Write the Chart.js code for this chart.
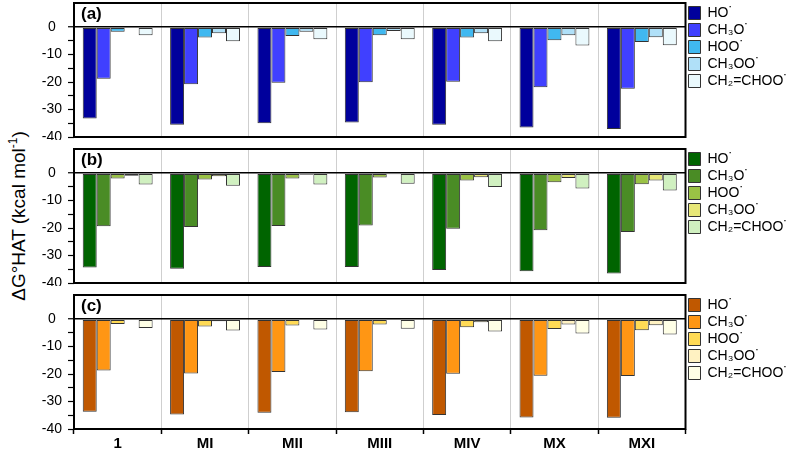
<!DOCTYPE html>
<html>
<head>
<meta charset="utf-8">
<script src="https://cdn.jsdelivr.net/npm/chart.js@4"></script>
<style>
  html, body { margin: 0; padding: 0; background: #fff; overflow: hidden; }
  body { width: 790px; height: 451px; position: relative; font-family: 'Liberation Sans', Arial, sans-serif; }
  canvas { position: absolute; left: 0; }
  #ytitle {
    position: absolute; left: 18px; top: 216px;
    transform: translate(-50%, -50%) rotate(-90deg);
    white-space: nowrap; font-size: 19px; color: #000;
  }
  #ytitle sup { font-size: 12px; }
</style>
</head>
<body>
<div id="ytitle">ΔG°HAT (kcal mol<sup>-1</sup>)</div>
<canvas id="panelA" width="790" height="140" style="top:0px"></canvas>
<canvas id="panelB" width="790" height="140" style="top:146px"></canvas>
<canvas id="panelC" width="790" height="162" style="top:292px"></canvas>
<script>
'use strict';

const categories = ['1', 'MI', 'MII', 'MIII', 'MIV', 'MX', 'MXI'];
const radicals = ['HO˙', 'CH₃O˙', 'HOO˙', 'CH₃OO˙', 'CH₂=CHOO˙'];

// panel (a)
const hoA      = [-33.3, -35.5, -35.0, -34.7, -35.5, -36.5, -37.1];
const ch3oA    = [-18.8, -20.8, -20.2, -20.1, -19.9, -21.9, -22.4];
const hooA     = [-1.7, -3.8, -3.2, -2.9, -3.8, -4.8, -5.4];
const ch3ooA   = [-0.2, -2.2, -1.7, -1.4, -2.2, -2.9, -3.7];
const ch2chooA = [-2.9, -5.1, -4.4, -4.4, -5.1, -6.7, -6.6];

// panel (b)
const hoB      = [-34.4, -34.8, -34.2, -34.2, -35.3, -35.7, -36.5];
const ch3oB    = [-19.3, -19.6, -19.2, -19.1, -20.2, -20.8, -21.4];
const hooB     = [-1.9, -2.3, -1.9, -1.6, -2.7, -3.3, -4.0];
const ch3ooB   = [-0.9, -1.1, -0.6, -0.4, -1.5, -1.8, -2.7];
const ch2chooB = [-4.1, -4.6, -4.1, -3.9, -5.0, -5.6, -6.3];

// panel (c)
const hoC      = [-33.7, -34.7, -34.1, -33.9, -34.9, -35.8, -35.9];
const ch3oC    = [-18.7, -19.8, -19.2, -19.0, -19.9, -20.6, -20.7];
const hooC     = [-1.8, -2.7, -2.3, -1.9, -2.9, -3.6, -4.0];
const ch3ooC   = [-0.3, -0.8, -0.3, -0.2, -1.1, -1.9, -2.2];
const ch2chooC = [-3.2, -4.1, -3.8, -3.5, -4.5, -5.2, -5.6];

const yTicks = [-40, -30, -20, -10, 0];

const blues   = ['#00009c', '#4040ff', '#40b8f0', '#b0e0f8', '#eaf9fd'];
const greens  = ['#006400', '#4a8c25', '#9ac245', '#e8e878', '#d0f0c0'];
const oranges = ['#c05800', '#ff9614', '#ffda55', '#fff2c2', '#ffffe6'];

Chart.defaults.font.family = "'Liberation Sans', Arial, sans-serif";
Chart.defaults.color = '#000';

const framePlugin = {
  id: 'frame',
  afterDraw(chart, args, opts) {
    const { ctx, chartArea: a } = chart;
    ctx.save();
    ctx.lineWidth = 2;
    ctx.strokeStyle = '#000';
    ctx.strokeRect(a.left, a.top, a.right - a.left, a.bottom - a.top);
    ctx.fillStyle = '#000';
    ctx.font = "bold 17px 'Liberation Sans', Arial, sans-serif";
    ctx.textBaseline = 'alphabetic';
    ctx.fillText(opts.text, a.left + 7, a.top + 16);
    ctx.restore();
  }
};

function makePanel(id, letter, colors, series, showX) {
  new Chart(id, {
    type: 'bar',
    data: {
      labels: categories,
      datasets: series.map((d, i) => ({
        label: radicals[i],
        data: d,
        backgroundColor: colors[i],
        borderColor: '#333',
        borderWidth: 1,
        borderSkipped: false,
        categoryPercentage: 0.8,
        barPercentage: 1.0
      }))
    },
    options: {
      responsive: false,
      devicePixelRatio: 1,
      animation: false,
      layout: { padding: { top: 3, bottom: 3, left: 0, right: -8 } },
      plugins: {
        frame: { text: letter },
        tooltip: { enabled: false },
        legend: {
          position: 'right',
          align: 'start',
          labels: {
            boxWidth: 12,
            boxHeight: 13,
            padding: 3,
            font: { size: 14, lineHeight: 1.3 },
            color: '#000'
          }
        }
      },
      scales: {
        x: {
          offset: true,
          afterFit: s => {
            s.height = showX ? 22 : 0;
            s.paddingLeft = 0; s.paddingRight = 0;
          },
          border: { display: false },
          grid: {
            offset: true,
            color: '#cfcfcf',
            borderDash: [2, 2],
            lineWidth: 1,
            drawTicks: showX,
            tickLength: 5,
            tickColor: '#000',
            tickWidth: 1.5,
            tickBorderDash: []
          },
          ticks: {
            display: showX,
            padding: 1,
            font: { size: 15, weight: 'bold' }
          }
        },
        y: {
          min: -40,
          max: 8.8,
          afterFit: s => {
            s.width = 74;
            s.paddingTop = 0; s.paddingBottom = 0;
          },
          afterBuildTicks: s => { s.ticks = s.ticks.filter(t => t.value % 5 === 0); },
          border: { display: false },
          grid: {
            drawOnChartArea: true,
            color: c => (c.tick && c.tick.value === 0) ? '#000' : 'rgba(0,0,0,0)',
            lineWidth: c => (c.tick && c.tick.value === 0) ? 1.5 : 1,
            tickLength: 6,
            tickColor: '#000',
            tickWidth: 1.2
          },
          ticks: {
            stepSize: 5,
            autoSkip: false,
            crossAlign: 'center',
            padding: 6,
            font: { size: 14 },
            callback: v => yTicks.includes(v) ? String(v) : ''
          }
        }
      }
    },
    plugins: [framePlugin]
  });
}

makePanel('panelA', '(a)', blues, [hoA, ch3oA, hooA, ch3ooA, ch2chooA], false);
makePanel('panelB', '(b)', greens, [hoB, ch3oB, hooB, ch3ooB, ch2chooB], false);
makePanel('panelC', '(c)', oranges, [hoC, ch3oC, hooC, ch3ooC, ch2chooC], true);
</script>
</body>
</html>
